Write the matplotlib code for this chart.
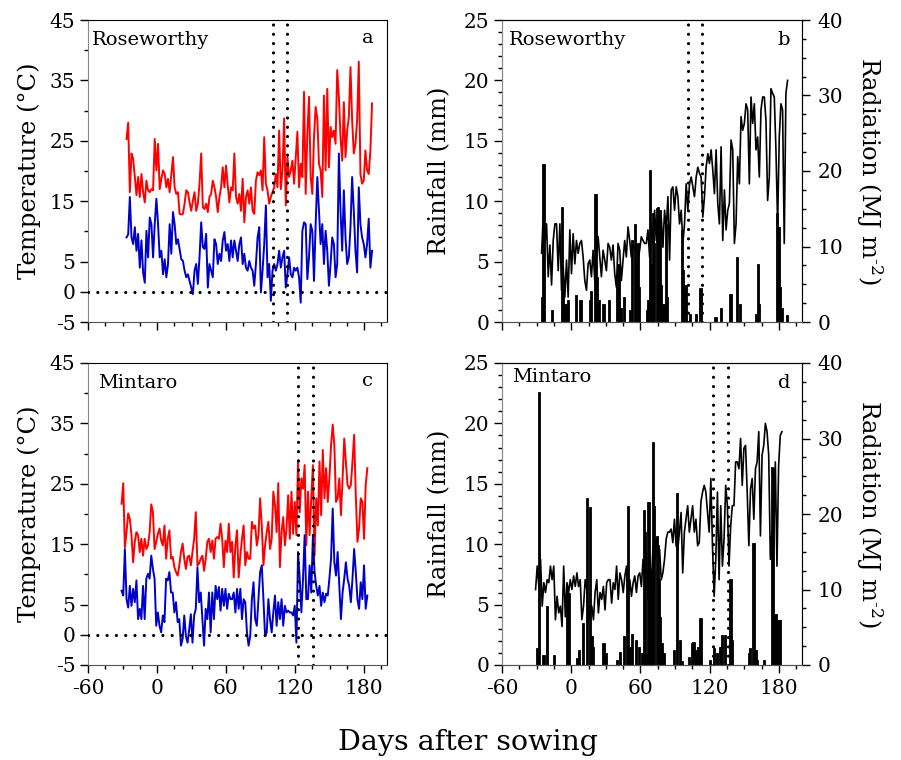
import numpy as np
import matplotlib
matplotlib.use("Agg")
import matplotlib.pyplot as plt
from matplotlib.ticker import MultipleLocator, FixedLocator, NullFormatter

plt.rcParams['font.family'] = ['DejaVu Serif']
plt.rcParams['mathtext.fontset'] = 'dejavuserif'
plt.rcParams['axes.unicode_minus'] = False

# Roseworthy - daily max/min temperature (deg C)
rose_temp_span = (-26.5, 187.0)
rose_tmax = [25.3, 28.0, 16.5, 22.9, 22.0, 19.0, 16.0, 19.0, 15.7, 19.5, 16.5, 14.8, 18.4, 16.8, 16.5,
             17.0, 16.8, 25.3, 20.1, 24.5, 17.0, 18.7, 20.1, 19.5, 17.3, 18.7, 16.5, 19.5, 22.3, 17.3,
             16.2, 16.5, 12.9, 12.8, 12.9, 14.6, 16.8, 16.5, 14.8, 13.4, 15.1, 16.5, 13.4, 14.6, 17.9,
             22.9, 14.0, 13.7, 14.6, 13.2, 15.7, 16.2, 18.4, 17.3, 15.7, 13.2, 15.7, 17.3, 20.6, 17.3,
             20.9, 17.6, 14.8, 17.3, 16.8, 22.9, 15.7, 14.6, 16.2, 13.4, 18.7, 11.5, 15.7, 16.8, 14.6,
             17.3, 13.4, 12.9, 18.4, 19.8, 19.3, 20.1, 16.8, 25.6, 17.9, 16.8, 14.6, 15.7, 16.5, 17.3,
             19.5, 17.3, 26.7, 17.0, 20.1, 28.7, 14.3, 22.3, 19.0, 20.1, 21.7, 17.9, 22.3, 26.5, 17.3,
             21.2, 19.0, 33.1, 16.2, 26.2, 32.3, 19.0, 16.2, 25.6, 30.6, 28.7, 21.2, 20.1, 15.7, 32.5,
             20.1, 33.6, 20.6, 27.3, 25.6, 26.7, 24.5, 36.7, 32.3, 25.6, 21.7, 31.4, 22.3, 26.7, 28.9,
             37.2, 28.4, 22.9, 24.5, 28.4, 38.1, 19.5, 17.9, 18.4, 23.4, 20.1, 19.5, 23.4, 31.2]
rose_tmin = [9.0, 9.5, 15.7, 9.0, 7.9, 10.7, 6.8, 9.6, 4.0, 8.5, 3.2, 1.5, 10.1, 5.7, 12.3,
             11.2, 5.7, 11.2, 15.4, 11.2, 5.7, 6.8, 2.9, 5.4, 2.4, 4.6, 11.2, 6.3, 13.2, 11.2,
             7.9, 8.7, 7.1, 5.4, 5.1, 3.5, 2.4, 2.9, 1.8, 0.7, -0.4, 3.5, 4.6, 1.3, 5.7,
             11.5, 7.4, 7.1, 9.6, 0.7, 4.6, 3.5, 2.4, 8.7, 7.9, 4.6, 6.3, 5.1, 8.5, 9.9,
             6.8, 7.9, 5.1, 8.5, 5.7, 8.5, 6.8, 5.1, 7.9, 9.0, 4.6, 6.3, 4.0, 3.5, 5.1,
             4.0, 3.5, 1.0, 4.6, 9.0, 10.7, -0.1, 3.5, 7.9, 14.3, 2.4, 4.6, -1.5, 3.5, 4.6,
             3.5, 4.6, 6.8, 4.0, 5.7, 6.8, 0.7, 2.9, 5.7, 2.9, 2.4, 4.0, 3.5, 4.0, 2.4,
             -1.8, 10.1, 11.5, 11.2, 2.1, 5.7, 11.2, 10.1, 1.8, 11.2, 19.0, 13.4, 7.9, 11.2, 4.6,
             10.1, 6.8, 1.0, 4.6, 9.0, 7.9, 2.4, 4.6, 22.9, 13.4, 6.8, 16.8, 9.0, 4.6, 5.7,
             10.7, 19.0, 13.4, 6.8, 3.2, 17.3, 11.2, 9.0, 7.9, 5.7, 7.9, 12.1, 4.0, 6.8]

# Roseworthy - daily radiation (MJ m-2) and rainfall (mm)
rose_rad_span = (-25.7, 187.5)
rose_rad = [9.1, 13.9, 10.4, 13.0, 6.0, 10.2, 4.9, 10.8, 13.0, 13.0, 6.8, 13.0, 4.2, 7.3, 3.3,
            8.2, 3.3, 12.2, 6.4, 11.7, 7.7, 10.8, 9.1, 10.4, 10.8, 8.6, 5.5, 4.2, 7.7, 8.2,
            6.0, 9.5, 5.5, 8.6, 11.3, 8.6, 6.0, 9.5, 8.2, 6.8, 10.4, 9.9, 8.2, 10.2, 6.4,
            4.6, 10.4, 9.5, 5.5, 8.2, 10.8, 8.6, 12.6, 10.8, 8.6, 10.4, 9.5, 10.4, 8.2, 9.5,
            11.3, 10.8, 10.4, 10.4, 12.2, 8.6, 13.0, 10.4, 14.8, 10.8, 14.4, 9.1, 13.9, 9.9, 14.8,
            12.2, 16.6, 8.2, 17.5, 17.9, 14.8, 17.9, 16.6, 13.0, 14.8, 10.4, 13.0, 18.3, 14.8, 18.3,
            19.2, 17.9, 16.6, 19.2, 20.5, 19.7, 19.2, 13.9, 16.6, 20.5, 22.3, 21.0, 22.8, 20.1, 17.0,
            22.8, 15.7, 13.0, 23.2, 10.8, 17.5, 12.2, 14.8, 15.7, 24.1, 22.8, 10.4, 13.0, 21.9, 18.3,
            27.2, 25.4, 26.3, 28.9, 28.1, 18.3, 29.8, 26.3, 28.9, 22.8, 24.5, 19.2, 28.1, 29.8, 29.8,
            26.7, 16.1, 19.2, 30.9, 30.3, 29.8, 22.8, 13.0, 24.5, 28.9, 28.1, 10.4, 30.3, 32.0]
rose_rain_day = [-25, -24, -17, -8, -7, -5, -3, 4, 8, 16, 17, 21, 22, 24, 28, 33, 40, 41, 43, 46,
                 51, 53, 55, 56, 58, 59, 66, 67, 68, 70, 71, 72, 74, 75, 76, 77, 78, 80, 82, 83,
                 96, 97, 99, 103, 108, 112, 125, 130, 138, 144, 146, 160, 162, 163, 178, 180, 181, 183, 187]
rose_rain_mm = [2.1, 13.1, 1.0, 9.5, 2.6, 1.5, 1.8, 2.2, 1.8, 1.8, 2.6, 10.6, 3.7, 1.8, 1.5, 1.8, 2.9, 4.8, 1.2, 2.1,
                1.0, 6.8, 8.1, 5.1, 6.5, 2.9, 1.0, 1.8, 12.6, 4.8, 9.0, 6.5, 9.4, 9.5, 6.5, 9.3, 3.1, 1.5, 8.1, 2.1,
                7.6, 4.3, 3.1, 0.7, 0.7, 2.8, 0.4, 1.2, 2.3, 5.4, 1.5, 0.7, 4.8, 1.5, 9.0, 7.9, 2.9, 1.2, 0.6]
rose_marks = [101, 113]

# Mintaro - daily max/min temperature (deg C)
mint_temp_span = (-30.8, 182.9)
mint_tmax = [21.7, 25.1, 14.5, 17.0, 20.1, 19.2, 16.5, 12.0, 15.4, 17.0, 16.5, 13.7, 15.9, 13.1, 15.9,
             14.2, 14.8, 17.0, 21.6, 20.3, 14.2, 15.4, 16.7, 17.6, 15.6, 14.8, 18.1, 12.6, 15.9, 17.3,
             12.6, 12.9, 11.2, 10.4, 9.8, 11.5, 13.7, 15.1, 12.6, 10.9, 12.9, 13.1, 11.5, 13.7, 15.9,
             20.3, 11.5, 11.8, 12.6, 13.1, 10.6, 12.6, 15.4, 15.9, 13.7, 15.6, 12.6, 15.9, 16.2, 15.9,
             18.4, 15.9, 11.2, 15.6, 13.7, 18.4, 13.7, 15.4, 9.5, 14.8, 17.3, 9.5, 13.1, 15.9, 18.1,
             11.5, 13.7, 12.6, 12.6, 18.7, 17.6, 18.1, 14.8, 16.5, 22.6, 18.1, 11.5, 14.8, 17.0, 18.7,
             14.2, 15.9, 23.7, 21.5, 17.0, 25.1, 11.2, 17.0, 19.5, 14.8, 17.6, 23.1, 15.9, 23.7, 16.7,
             22.0, 16.5, 28.9, 20.3, 25.9, 24.2, 28.1, 14.8, 23.7, 16.5, 22.6, 28.1, 13.1, 22.6, 18.1,
             28.7, 19.8, 30.6, 22.6, 27.6, 22.0, 25.9, 31.4, 34.8, 31.4, 22.0, 22.6, 25.9, 19.8, 25.9,
             32.5, 28.7, 24.8, 24.2, 24.8, 28.7, 33.1, 23.1, 15.4, 17.6, 22.6, 22.0, 15.9, 24.8, 27.6]
mint_tmin = [7.3, 6.5, 14.2, 5.9, 4.5, 8.1, 4.8, 7.6, 5.4, 9.0, 2.6, 4.3, 2.6, 8.1, 2.6,
             9.3, 10.1, 9.3, 13.1, 10.9, 9.3, 1.5, 3.7, 1.5, 0.4, 3.2, 2.1, 9.3, 9.0, 10.4,
             7.0, 7.0, 3.7, 5.4, 2.1, 2.6, -1.8, -0.7, 3.2, -0.2, -1.3, 0.9, 3.4, -1.3, 3.2,
             4.3, 11.2, 5.4, 7.0, 2.6, -1.8, 4.3, 2.6, 7.0, 0.4, 7.0, 2.6, 8.1, 5.9, 7.9,
             4.0, 7.6, 4.8, 7.6, 4.3, 6.8, 5.9, 5.9, 7.0, 3.7, 7.6, 4.3, 7.6, 2.6, 5.9,
             5.4, 0.4, -1.8, -0.2, 5.9, 8.7, 2.6, 1.5, 5.9, 10.4, 11.5, 5.9, -0.2, 0.4, 5.9,
             2.6, 0.4, 3.7, 6.5, 1.5, 5.4, 2.6, 5.9, 1.5, 4.8, 3.7, 4.0, 3.7, 3.7, 3.2,
             4.8, -1.3, 13.7, 9.3, 3.7, 9.3, 16.5, 5.9, 5.9, 11.5, 7.0, 16.5, 10.4, 8.1, 6.5,
             8.1, 4.8, 7.0, 5.4, 6.8, 6.5, 9.3, 12.6, 20.9, 12.0, 9.8, 13.7, 8.1, 2.6, 7.0,
             9.3, 12.0, 9.3, 8.1, 5.4, 9.3, 14.2, 10.4, 5.9, 4.3, 8.7, 5.9, 11.5, 4.3, 6.5]

# Mintaro - daily radiation (MJ m-2) and rainfall (mm)
mint_rad_span = (-30.9, 182.6)
mint_rad = [10.0, 13.1, 10.4, 14.0, 7.8, 10.9, 9.6, 11.3, 10.9, 13.1, 11.3, 13.1, 6.0, 9.1, 6.9,
            7.8, 5.1, 13.1, 6.4, 10.9, 9.6, 11.3, 10.0, 11.8, 10.4, 12.2, 10.4, 11.3, 6.0, 7.8,
            11.3, 10.0, 5.6, 7.8, 7.8, 6.0, 9.6, 11.3, 6.9, 9.6, 8.7, 10.4, 7.3, 10.9, 11.3,
            11.3, 8.2, 10.9, 10.0, 13.1, 8.7, 12.2, 11.3, 9.6, 11.8, 13.1, 9.6, 11.3, 9.1, 10.9,
            11.8, 9.6, 11.8, 12.2, 10.4, 14.0, 11.3, 14.9, 8.7, 14.0, 10.4, 15.8, 13.6, 16.7, 13.6,
            15.3, 11.3, 12.2, 14.0, 16.7, 17.6, 17.6, 18.0, 16.2, 19.3, 15.8, 15.3, 17.6, 20.2, 12.2,
            17.6, 19.3, 21.1, 17.6, 19.3, 21.1, 17.6, 19.3, 15.8, 16.2, 21.6, 22.9, 23.8, 22.9, 20.2,
            17.6, 24.7, 15.8, 9.1, 14.0, 22.9, 11.3, 21.1, 13.1, 16.7, 23.8, 21.1, 13.1, 18.4, 21.1,
            21.1, 26.9, 26.9, 26.0, 30.0, 23.8, 28.7, 29.1, 22.9, 15.8, 23.3, 24.7, 19.3, 26.0, 26.9,
            30.9, 17.1, 27.8, 29.1, 32.0, 30.9, 27.8, 14.0, 17.6, 15.8, 26.9, 13.1, 26.4, 30.4, 30.9]
mint_rain_day = [-30, -28, -24, -21, -15, -4, -2, 5, 7, 10, 14, 16, 18, 19, 28, 30, 40, 42, 46, 48,
                 49, 51, 53, 56, 59, 61, 63, 64, 66, 67, 69, 71, 72, 74, 75, 76, 77, 79, 80, 89,
                 92, 94, 96, 102, 105, 106, 108, 110, 112, 120, 124, 126, 129, 131, 133, 138, 139, 154, 155,
                 158, 160, 161, 167, 174, 175, 177, 178, 180, 181]
mint_rain_mm = [1.4, 22.6, 0.8, 4.9, 0.8, 6.5, 6.0, 0.55, 1.25, 3.5, 13.8, 13.1, 2.4, 1.5, 1.8, 1.0, 0.4, 1.1, 2.4, 7.6,
                13.2, 1.5, 2.6, 2.1, 1.5, 1.0, 12.8, 11.0, 1.0, 13.5, 7.1, 18.5, 13.2, 10.7, 9.9, 7.1, 4.0, 1.8, 1.0, 1.25,
                14.2, 2.1, 0.3, 0.7, 1.8, 1.9, 1.25, 1.5, 3.9, 0.4, 1.4, 1.0, 1.5, 2.5, 2.5, 7.1, 2.1, 1.0, 1.4,
                10.1, 1.25, 0.4, 0.4, 16.4, 16.3, 4.2, 3.75, 3.75, 3.75]
mint_marks = [123, 136]

site_names = ['Roseworthy', 'Mintaro']
panel_letters = ['a', 'b', 'c', 'd']
temp_ticks = [-5, 0, 5, 15, 25, 35, 45]
x_ticks = [-60, 0, 60, 120, 180]

TICK_FS = 14.5
LAB_FS = 17.5
NAME_FS = 14
DOT = (0, (0.01, 2.9))

fig = plt.figure(figsize=(9.01, 7.6), dpi=100)
W, H = 901.0, 760.0


def px_axes(left, top, right, bottom):
    return fig.add_axes([left / W, 1 - bottom / H, (right - left) / W, (bottom - top) / H])


def style_x(ax, show_labels):
    ax.set_xlim(-60, 200)
    ax.xaxis.set_major_locator(FixedLocator(x_ticks))
    ax.xaxis.set_minor_locator(MultipleLocator(15))
    if not show_labels:
        ax.xaxis.set_major_formatter(NullFormatter())
    ax.tick_params(axis='x', which='major', direction='out', length=6, width=1, labelsize=TICK_FS, pad=4)
    ax.tick_params(axis='x', which='minor', direction='out', length=3, width=1)
    ax.spines['left'].set_color('#888888')
    ax.spines['bottom'].set_color('#555555')


def vmarks(ax, marks):
    for m in marks:
        ax.axvline(m, color='black', lw=2.3, ls=DOT, dash_capstyle='round', zorder=4)


def temp_panel(ax, span, tmax, tmin, marks, name, letter, show_x):
    d_max = np.linspace(span[0], span[1], len(tmax))
    d_min = np.linspace(span[0], span[1], len(tmin))
    ax.plot(d_max, tmax, color='#ff0000', lw=1.4, zorder=2)
    ax.plot(d_min, tmin, color='#0000cc', lw=1.4, zorder=2)
    ax.axhline(0, color='black', lw=2.3, ls=DOT, dash_capstyle='round', zorder=4)
    vmarks(ax, marks)
    ax.set_ylim(-5, 45)
    ax.yaxis.set_major_locator(FixedLocator(temp_ticks))
    ax.yaxis.set_minor_locator(FixedLocator([10, 20, 30, 40]))
    ax.tick_params(axis='y', which='major', direction='out', length=6, width=1, labelsize=TICK_FS, pad=3)
    ax.tick_params(axis='y', which='minor', direction='out', length=3, width=1)
    style_x(ax, show_x)
    ax.set_ylabel('Temperature (°C)', fontsize=LAB_FS, labelpad=6)
    ax.text(0.013 if name == 'Roseworthy' else 0.033, 0.935, name, transform=ax.transAxes,
            fontsize=NAME_FS, va='center', ha='left')
    ax.text(0.936, 0.94, letter, transform=ax.transAxes, fontsize=NAME_FS, va='center', ha='center')


def rain_panel(ax, span, rad, rain_day, rain_mm, marks, name, letter, show_x, name_y):
    ax.bar(rain_day, rain_mm, width=1.9, color='black', edgecolor='black', linewidth=0.6, zorder=2)
    ax.set_ylim(0, 25)
    ax.yaxis.set_major_locator(MultipleLocator(5))
    ax.yaxis.set_minor_locator(MultipleLocator(1))
    ax.tick_params(axis='y', which='major', direction='out', length=6, width=1, labelsize=TICK_FS, pad=3)
    ax.tick_params(axis='y', which='minor', direction='out', length=3, width=1)
    style_x(ax, show_x)
    ax.set_ylabel('Rainfall (mm)', fontsize=LAB_FS, labelpad=9)
    vmarks(ax, marks)

    ax2 = ax.twinx()
    d_rad = np.linspace(span[0], span[1], len(rad))
    ax2.plot(d_rad, rad, color='black', lw=1.2, zorder=3)
    ax2.set_ylim(0, 40)
    ax2.yaxis.set_major_locator(MultipleLocator(10))
    ax2.yaxis.set_minor_locator(MultipleLocator(2.5))
    ax2.tick_params(axis='y', which='major', direction='out', length=6, width=1, labelsize=TICK_FS, pad=5)
    ax2.tick_params(axis='y', which='minor', direction='out', length=3, width=1)
    ax2.set_ylabel('Radiation (MJ m$^{\u2010 2}$)', fontsize=LAB_FS, rotation=270, labelpad=30)
    ax2.spines['left'].set_color('#888888')
    ax2.spines['bottom'].set_color('#555555')
    ax.text(0.023 if name == 'Roseworthy' else 0.033, name_y, name, transform=ax.transAxes,
            fontsize=NAME_FS, va='center', ha='left')
    ax.text(0.94, 0.935, letter, transform=ax.transAxes, fontsize=NAME_FS, va='center', ha='center')


ax_a = px_axes(88, 20, 387, 322)
ax_b = px_axes(502, 20, 802, 322)
ax_c = px_axes(88, 363, 387, 665)
ax_d = px_axes(502, 363, 802, 665)

temp_panel(ax_a, rose_temp_span, rose_tmax, rose_tmin, rose_marks, site_names[0], panel_letters[0], False)
rain_panel(ax_b, rose_rad_span, rose_rad, rose_rain_day, rose_rain_mm, rose_marks,
           site_names[0], panel_letters[1], False, 0.935)
temp_panel(ax_c, mint_temp_span, mint_tmax, mint_tmin, mint_marks, site_names[1], panel_letters[2], True)
rain_panel(ax_d, mint_rad_span, mint_rad, mint_rain_day, mint_rain_mm, mint_marks,
           site_names[1], panel_letters[3], True, 0.955)

fig.text(468 / W, 1 - 742 / H, 'Days after sowing', fontsize=20.5, ha='center', va='center')

fig.savefig('out.png', dpi=100)
